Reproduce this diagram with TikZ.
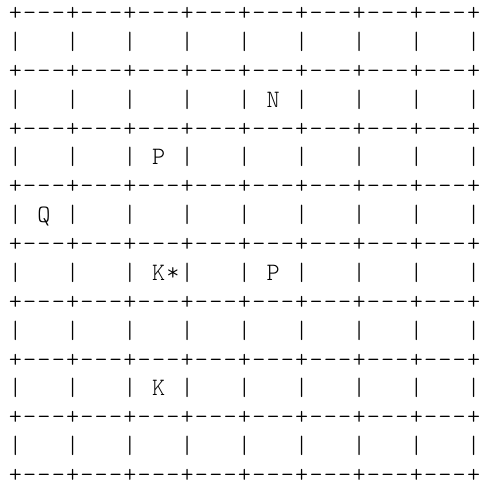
\documentclass[tikz,border=0pt]{standalone}
\usepackage{fontspec}
\setmonofont{Latin Modern Mono Light}
% one fixed-width character cell
\newcommand{\ch}[1]{\makebox[7.16pt]{#1}}
\newcommand{\sq}[1][]{\ch{}\ch{#1}\ch{}\ch{|}}
\newcommand{\edge}{\ch{-}\ch{-}\ch{-}\ch{+}}
\newcommand{\bd}{\ch{+}\edge\edge\edge\edge\edge\edge\edge\edge}

\begin{document}
\begin{tikzpicture}[x=1pt,y=1pt,
  txt/.style={anchor=base west,inner sep=0pt,text depth=0pt,font=\ttfamily\fontsize{12.5}{14.43}\selectfont}]
  \useasboundingbox (0,0) rectangle (240,-241.5);
  % borders between the ranks
  \foreach \k in {0,...,8}
    \node[txt] (b\k) at (3.92,{-10.34-28.86*\k}) {\bd};
  % ranks, top to bottom
  \node[txt] (r1) at (3.92,-24.77)  {\ch{|}\sq\sq\sq\sq\sq\sq\sq\sq};
  \node[txt] (r2) at (3.92,-53.63)  {\ch{|}\sq\sq\sq\sq\sq[N]\sq\sq\sq};
  \node[txt] (r3) at (3.92,-82.49)  {\ch{|}\sq\sq\sq[P]\sq\sq\sq\sq\sq};
  \node[txt] (r4) at (3.92,-111.35) {\ch{|}\sq[Q]\sq\sq\sq\sq\sq\sq\sq};
  \node[txt] (r5) at (3.92,-140.21) {\ch{|}\sq\sq\ch{}\ch{K}\ch{*}\ch{|}\sq\sq[P]\sq\sq\sq};
  \node[txt] (r6) at (3.92,-169.07) {\ch{|}\sq\sq\sq\sq\sq\sq\sq\sq};
  \node[txt] (r7) at (3.92,-197.93) {\ch{|}\sq\sq\sq[K]\sq\sq\sq\sq\sq};
  \node[txt] (r8) at (3.92,-226.79) {\ch{|}\sq\sq\sq\sq\sq\sq\sq\sq};
\end{tikzpicture}
\end{document}
